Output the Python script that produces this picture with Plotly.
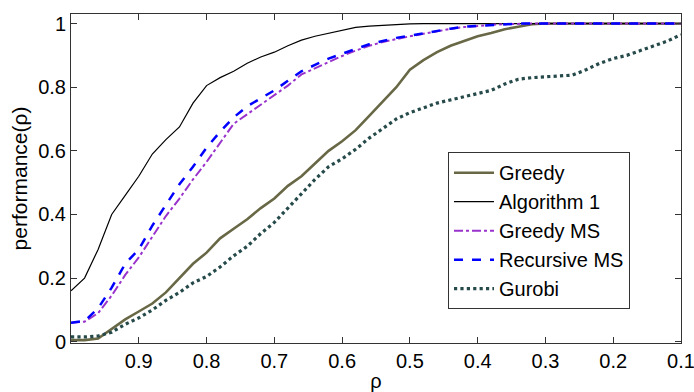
import plotly.graph_objects as go

rho = [1.0, 0.98, 0.96, 0.94, 0.92, 0.90, 0.88, 0.86, 0.84, 0.82, 0.80, 0.78, 0.76, 0.74, 0.72,
       0.70, 0.68, 0.66, 0.64, 0.62, 0.60, 0.58, 0.56, 0.54, 0.52, 0.50, 0.48, 0.46, 0.44, 0.42,
       0.40, 0.38, 0.36, 0.34, 0.32, 0.30, 0.28, 0.26, 0.24, 0.22, 0.20, 0.18, 0.16, 0.14, 0.12, 0.10]

greedy = [0.005, 0.005, 0.01, 0.04, 0.07, 0.095, 0.12, 0.155, 0.2, 0.245, 0.28, 0.325, 0.355, 0.385, 0.42,
          0.45, 0.49, 0.52, 0.56, 0.60, 0.63, 0.665, 0.71, 0.755, 0.80, 0.855, 0.885, 0.91, 0.93, 0.945,
          0.96, 0.97, 0.982, 0.99, 0.998, 1.0, 1.0, 1.0, 1.0, 1.0, 1.0, 1.0, 1.0, 1.0, 1.0, 1.0]

algorithm1 = [0.16, 0.20, 0.29, 0.40, 0.46, 0.52, 0.59, 0.635, 0.675, 0.75, 0.805, 0.83, 0.85, 0.875, 0.895,
              0.91, 0.93, 0.948, 0.96, 0.97, 0.98, 0.988, 0.992, 0.995, 0.997, 0.999, 1.0, 1.0, 1.0, 1.0,
              1.0, 1.0, 1.0, 1.0, 1.0, 1.0, 1.0, 1.0, 1.0, 1.0, 1.0, 1.0, 1.0, 1.0, 1.0, 1.0]

greedy_ms = [0.06, 0.063, 0.09, 0.145, 0.21, 0.265, 0.33, 0.395, 0.45, 0.51, 0.565, 0.625, 0.685, 0.715, 0.745,
             0.775, 0.805, 0.84, 0.86, 0.88, 0.898, 0.915, 0.93, 0.942, 0.952, 0.96, 0.968, 0.976, 0.983, 0.989,
             0.993, 0.996, 0.998, 1.0, 1.0, 1.0, 1.0, 1.0, 1.0, 1.0, 1.0, 1.0, 1.0, 1.0, 1.0, 1.0]

recursive_ms = [0.06, 0.065, 0.105, 0.17, 0.245, 0.29, 0.365, 0.43, 0.495, 0.55, 0.61, 0.66, 0.705, 0.74, 0.765,
                0.79, 0.82, 0.85, 0.87, 0.89, 0.905, 0.92, 0.935, 0.945, 0.955, 0.962, 0.97, 0.978, 0.984, 0.99,
                0.993, 0.996, 0.998, 1.0, 1.0, 1.0, 1.0, 1.0, 1.0, 1.0, 1.0, 1.0, 1.0, 1.0, 1.0, 1.0]

gurobi = [0.015, 0.015, 0.018, 0.03, 0.055, 0.075, 0.10, 0.13, 0.155, 0.185, 0.205, 0.235, 0.27, 0.30, 0.34,
          0.375, 0.42, 0.465, 0.51, 0.55, 0.575, 0.605, 0.64, 0.67, 0.70, 0.72, 0.735, 0.75, 0.76, 0.77,
          0.78, 0.79, 0.81, 0.825, 0.83, 0.832, 0.835, 0.838, 0.855, 0.875, 0.89, 0.90, 0.915, 0.93, 0.945, 0.965]

x_ticks = [0.9, 0.8, 0.7, 0.6, 0.5, 0.4, 0.3, 0.2, 0.1]
x_labels = ["0.9", "0.8", "0.7", "0.6", "0.5", "0.4", "0.3", "0.2", "0.1"]
y_ticks = [0, 0.2, 0.4, 0.6, 0.8, 1]
y_labels = ["0", "0.2", "0.4", "0.6", "0.8", "1"]

FONT = "Liberation Sans, Arial, sans-serif"

fig = go.Figure()
fig.add_trace(go.Scatter(x=rho, y=greedy, name="Greedy", mode="lines",
                         line=dict(color="#686846", width=2.6)))
fig.add_trace(go.Scatter(x=rho, y=algorithm1, name="Algorithm 1", mode="lines",
                         line=dict(color="#000000", width=1.2)))
fig.add_trace(go.Scatter(x=rho, y=greedy_ms, name="Greedy MS", mode="lines",
                         line=dict(color="#9933cc", width=2, dash="dashdot")))
fig.add_trace(go.Scatter(x=rho, y=recursive_ms, name="Recursive MS", mode="lines",
                         line=dict(color="#0000ff", width=2.5, dash="dash")))
fig.add_trace(go.Scatter(x=rho, y=gurobi, name="Gurobi", mode="lines",
                         line=dict(color="#264a4a", width=3.2, dash="dot")))

axis_common = dict(showgrid=False, zeroline=False, showline=True, linecolor="#333333", linewidth=1,
                   mirror="ticks", ticks="inside", ticklen=6, tickcolor="#333333",
                   ticklabeloverflow="allow", automargin=False,
                   tickfont=dict(family=FONT, size=20, color="#000000"))

fig.update_layout(
    width=694, height=392,
    margin=dict(l=71, r=13, t=14, b=49),
    paper_bgcolor="white", plot_bgcolor="white",
    font=dict(family=FONT, color="#000000"),
    xaxis=dict(range=[1.0, 0.1], tickvals=x_ticks, ticktext=x_labels,
               title=dict(text="ρ", font=dict(family=FONT, size=20), standoff=8), **axis_common),
    yaxis=dict(range=[-0.004, 1.03], tickvals=y_ticks, ticktext=y_labels,
               title=dict(text="performance(ρ)", font=dict(family=FONT, size=21), standoff=4), **axis_common),
    legend=dict(x=0.618, y=0.58, xanchor="left", yanchor="top",
                bgcolor="white", bordercolor="#333333", borderwidth=1,
                font=dict(family=FONT, size=20, color="#000000"),
                tracegroupgap=0, itemwidth=40),
    showlegend=True,
)

fig.write_html("out.html")
